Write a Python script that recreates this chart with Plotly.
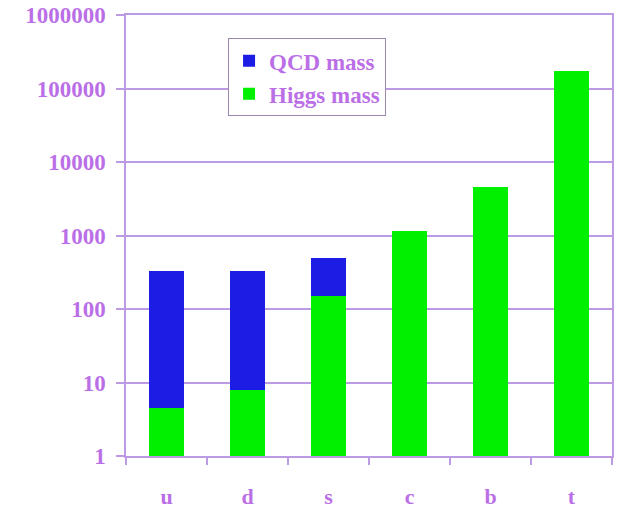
import plotly.graph_objects as go

# Quark masses in MeV, split into Higgs-generated and QCD-generated parts
quarks = ["u", "d", "s", "c", "b", "t"]
higgs_mass = [4.5, 8, 150, 1150, 4500, 175000]
qcd_mass = [325.5, 322, 350, 0, 0, 0]

y_tickvals = [1, 10, 100, 1000, 10000, 100000, 1000000]
y_ticktext = ["1", "10", "100", "1000", "10000", "100000", "1000000"]

TEXT = "#bb6fe6"
LINE = "#bc9ae4"
FONT = "Liberation Serif"

fig = go.Figure()
fig.add_trace(go.Bar(
    x=quarks, y=higgs_mass, name="Higgs mass",
    marker=dict(color="#00f000", line=dict(width=0)),
))
fig.add_trace(go.Bar(
    x=quarks, y=qcd_mass, name="QCD mass",
    marker=dict(color="#1c1ce4", line=dict(width=0)),
))

fig.update_layout(
    width=619, height=512,
    margin=dict(l=126, r=7, t=15, b=56, autoexpand=False),
    paper_bgcolor="white", plot_bgcolor="white",
    barmode="stack", bargap=0.58,
    font=dict(family=FONT, color=TEXT, size=22, weight="bold"),
    legend=dict(
        x=0.21, y=0.947, xanchor="left", yanchor="top",
        traceorder="reversed",
        bgcolor="white", bordercolor="#9a88b0", borderwidth=1,
        font=dict(family=FONT, color=TEXT, size=23, weight="bold"),
        itemwidth=30, tracegroupgap=0,
    ),
    showlegend=True,
)

fig.update_yaxes(
    type="log", range=[0, 6], automargin=False,
    tickvals=y_tickvals, ticktext=y_ticktext,
    showgrid=True, gridcolor=LINE, gridwidth=1.5,
    showline=True, linecolor=LINE, linewidth=1.5, mirror=True,
    ticks="outside", ticklen=8, tickcolor=LINE, tickwidth=1.5,
    ticklabelstandoff=6,
    tickfont=dict(family=FONT, color=TEXT, size=23, weight="bold"),
    zeroline=False,
)
fig.update_xaxes(
    showgrid=False, automargin=False,
    showline=True, linecolor=LINE, linewidth=1.5, mirror=True,
    ticks="outside", tickson="boundaries", ticklen=7, tickcolor=LINE, tickwidth=1.5,
    ticklabelstandoff=20,
    tickfont=dict(family=FONT, color=TEXT, size=22, weight="bold"),
)

fig.write_html("out.html")
